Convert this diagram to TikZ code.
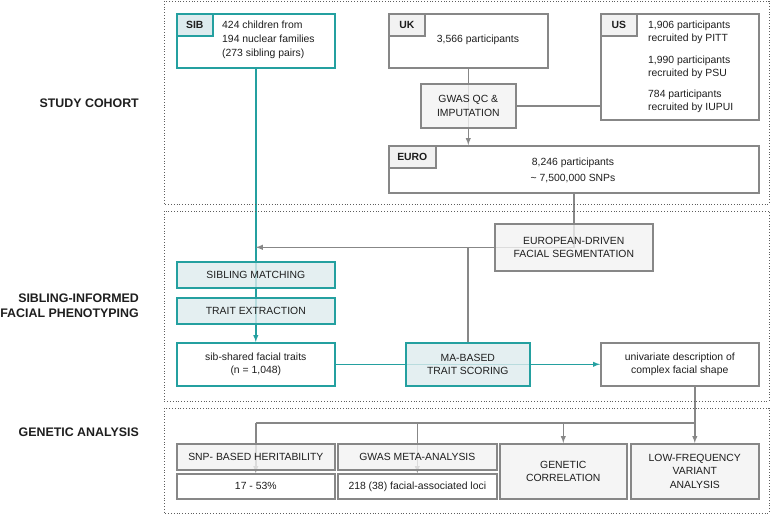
\documentclass[tikz,border=0pt]{standalone}
\usepackage{fontspec}
\setmainfont{Liberation Sans}
\usetikzlibrary{arrows,calc}
\tikzset{>=latex}
\definecolor{tealc}{RGB}{36,160,160}
\definecolor{tealbg}{RGB}{221,235,238}
\definecolor{grayc}{RGB}{135,135,135}
\definecolor{graybg}{RGB}{242,242,242}
\definecolor{txt}{RGB}{30,30,30}
\pgfdeclarelayer{back}
\pgfsetlayers{back,main}
\tikzset{
  box/.style={draw, line width=1.6pt, anchor=north west, inner sep=0pt,
    align=center, text=txt, font=\fontsize{10.4}{13.5}\selectfont},
  tealbox/.style={box, draw=tealc, fill=white},
  tealfill/.style={box, draw=tealc, fill=tealbg, fill opacity=0.8, text opacity=1},
  graybox/.style={box, draw=grayc, fill=white},
  grayfill/.style={box, draw=grayc, fill=graybg, fill opacity=0.8, text opacity=1},
  tag/.style={box, font=\bfseries\fontsize{10.4}{12}\selectfont,
    minimum height=22pt},
  txtnode/.style={anchor=west, inner sep=0pt, align=left, text=txt,
    font=\fontsize{10.4}{13.5}\selectfont},
  section/.style={draw=grayc!70!black, dotted, line width=0.8pt},
  sectlabel/.style={anchor=east, align=right, inner sep=0pt, text=txt,
    font=\bfseries\fontsize{12.4}{15}\selectfont},
  tealline/.style={draw=tealc, line width=1.4pt},
  grayline/.style={draw=grayc, line width=1.4pt}
}

\begin{document}
\begin{tikzpicture}[x=1pt,y=-1pt]
  \useasboundingbox (0,0) rectangle (771,515);
  % section frames and labels
  \draw[section] (164,1) rectangle (769,204);
  \draw[section] (164,211) rectangle (769,401);
  \draw[section] (164,408) rectangle (769,513);
  \node[sectlabel] (lcohort) at (139,103) {STUDY COHORT};
  \node[sectlabel] (lpheno) at (139,305.5) {SIBLING-INFORMED\\FACIAL PHENOTYPING};
  \node[sectlabel] (lgenet) at (139,432) {GENETIC ANALYSIS};

  % study cohort
  \node[tealbox, minimum width=158pt, minimum height=54pt] (sib) at (176,13) {};
  \node[tag, draw=tealc, fill=tealbg, minimum width=36pt] (sibtag) at (176,13) {SIB};
  \node[txtnode, font=\fontsize{10.4}{14}\selectfont] (sibtxt) at (222,40)
    {424 children from\\194 nuclear families\\(273 sibling pairs)};

  \node[graybox, minimum width=159pt, minimum height=54pt] (uk) at (388,13) {};
  \node[tag, draw=grayc, fill=graybg, minimum width=36pt] (uktag) at (388,13) {UK};
  \node[txtnode, anchor=center] (uktxt) at (478,40) {3,566 participants};

  \node[graybox, minimum width=158pt, minimum height=106pt] (us) at (600,13) {};
  \node[tag, draw=grayc, fill=graybg, minimum width=36pt] (ustag) at (600,13) {US};
  \node[txtnode, font=\fontsize{10.4}{13}\selectfont] (pitt) at (648,32.5)
    {1,906 participants\\recruited by PITT};
  \node[txtnode, font=\fontsize{10.4}{13}\selectfont] (psu) at (648,67)
    {1,990 participants\\recruited by PSU};
  \node[txtnode, font=\fontsize{10.4}{13}\selectfont] (iupui) at (648,101.5)
    {784 participants\\recruited by IUPUI};

  \node[grayfill, minimum width=95pt, minimum height=44pt] (qc) at (420,83)
    {GWAS QC \&\\IMPUTATION};

  \node[graybox, minimum width=370pt, minimum height=47pt] (euro) at (388,145) {};
  \node[tag, draw=grayc, fill=graybg, minimum width=47pt] (eurotag) at (388,145) {EURO};
  \node[txtnode, anchor=center, align=center, font=\fontsize{10.4}{16}\selectfont]
    (eurotxt) at (573,170) {8,246 participants\\\textasciitilde{} 7,500,000 SNPs};

  % sibling-informed facial phenotyping
  \node[grayfill, minimum width=158pt, minimum height=47pt] (seg) at (494,223)
    {EUROPEAN-DRIVEN\\FACIAL SEGMENTATION};
  \node[tealfill, minimum width=158pt, minimum height=26pt] (match) at (176,261)
    {SIBLING MATCHING};
  \node[tealfill, minimum width=158pt, minimum height=26pt] (extract) at (176,297)
    {TRAIT EXTRACTION};
  \node[tealbox, minimum width=158pt, minimum height=43pt] (shared) at (176,342)
    {sib-shared facial traits\\(n = 1,048)};
  \node[tealfill, minimum width=124pt, minimum height=43pt] (scoring) at (405,342)
    {MA-BASED\\TRAIT SCORING};
  \node[graybox, minimum width=158pt, minimum height=43pt] (univ) at (600,342)
    {univariate description of\\complex facial shape};

  % genetic analysis
  \node[grayfill, minimum width=158pt, minimum height=26pt] (herit) at (176,443)
    {SNP- BASED HERITABILITY};
  \node[graybox, minimum width=158pt, minimum height=25pt] (range) at (176,473)
    {17 - 53\%};
  \node[grayfill, minimum width=159pt, minimum height=26pt] (meta) at (337,443)
    {GWAS META-ANALYSIS};
  \node[graybox, minimum width=159pt, minimum height=25pt] (loci) at (337,473)
    {218 (38) facial-associated loci};
  \node[grayfill, minimum width=127pt, minimum height=55pt] (gcorr) at (499,443)
    {GENETIC\\CORRELATION};
  \node[grayfill, minimum width=128pt, minimum height=55pt] (lowfreq) at (630,443)
    {LOW-FREQUENCY\\VARIANT\\ANALYSIS};
  \coordinate (bus) at (0,423);

  % connectors
  \begin{pgfonlayer}{back}
    \draw[tealline,->] (sib.south) -- (shared.north);
    \draw[tealline,->] (shared.east) -- (univ.west);
    \draw[grayline,->] (uk.south) -- (uk.south |- euro.north);
    \draw[grayline] (qc.east) -- (qc.east -| us.west);
    \draw[grayline,->] (euro.south) -- (seg.center) -- (sib.south |- seg.center);
    \draw[grayline] (scoring.north |- seg.center) -- (scoring.north);
    \draw[grayline,->] (lowfreq.north |- univ.south) -- (lowfreq.north);
    \draw[grayline] (bus -| herit.north) -- (bus -| lowfreq.north);
    \draw[grayline,->] (bus -| herit.north) -- (range.north);
    \draw[grayline,->] (bus -| meta.north) -- (loci.north);
    \draw[grayline,->] (bus -| gcorr.north) -- (gcorr.north);
  \end{pgfonlayer}
\end{tikzpicture}
\end{document}
